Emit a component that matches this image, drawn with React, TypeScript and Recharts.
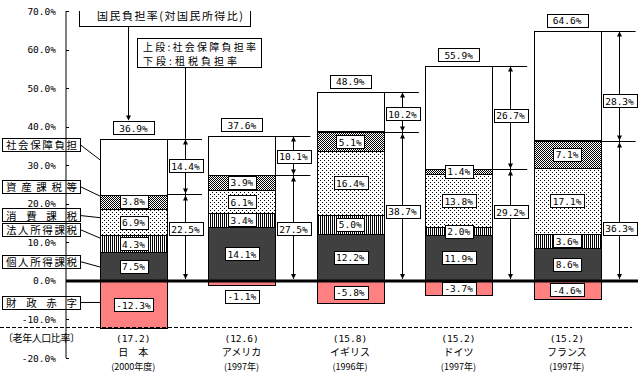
import React from 'react';
import { BarChart, Bar, XAxis, YAxis, ReferenceLine } from 'recharts';

const countries = ['日　本', 'アメリカ', 'イギリス', 'ドイツ', 'フランス'];
const surveyYears = ['(2000年度)', '(1997年)', '(1996年)', '(1997年)', '(1997年)'];
const elderlyRatio = ['(17.2)', '(12.6)', '(15.8)', '(15.2)', '(15.2)'];
const personalIncomeTax = [7.5, 14.1, 12.2, 11.9, 8.6];
const corporateIncomeTax = [4.3, 3.4, 5.0, 2.0, 3.6];
const consumptionTax = [6.9, 6.1, 16.4, 13.8, 17.1];
const assetTax = [3.8, 3.9, 5.1, 1.4, 7.1];
const socialSecurity = [14.4, 10.1, 10.2, 26.7, 28.3];
const taxBurden = [22.5, 27.5, 38.7, 29.2, 36.3];
const nationalBurden = [36.9, 37.6, 48.9, 55.9, 64.6];
const fiscalDeficit = [-12.3, -1.1, -5.8, -3.7, -4.6];
const yTicks = [-20, -10, 0, 10, 20, 30, 40, 50, 60, 70];

// where the side labels sit on the arrows (in % units)
const socialLabelAt = [29.9, 32.3, 43.4, 43.0, 46.7];
const taxLabelAt = [13.5, 13.5, 18.0, 17.9, 13.7];

// callouts on the left of the Japan bar
const callouts = [
  { text: '社会保障負担', at: 35.4, anchor: 31.4 },
  { text: '資産課税等', at: 24.5, anchor: 22.0 },
  { text: '消費課税', at: 17.1, anchor: 16.4 },
  { text: '法人所得課税', at: 13.4, anchor: 11.1 },
  { text: '個人所得課税', at: 5.1, anchor: 3.6 },
  { text: '財政赤字', at: -5.6, anchor: -5.6 },
];

const data = countries.map((country, i) => ({
  i,
  country,
  personal: personalIncomeTax[i],
  corporate: corporateIncomeTax[i],
  consumption: consumptionTax[i],
  assets: assetTax[i],
  social: socialSecurity[i],
  deficit: fiscalDeficit[i],
  tax: taxBurden[i],
  total: nationalBurden[i],
}));

const MONO = '"DejaVu Sans Mono", "Noto Sans CJK JP", monospace';
const JP = '"Noto Sans CJK JP", sans-serif';

const pct = (v: number) => v.toFixed(1) + '%';
const px = (v: number) => Math.round(v) + 0.5;

const LabelBox = ({ cx, cy, text, w }: { cx: number; cy: number; text: string; w?: number }) => {
  const bw = w ?? text.length * 5.7 + 5;
  return (
    <g>
      <rect x={px(cx - bw / 2)} y={px(cy - 6.5)} width={Math.round(bw)} height={13} fill="#fff" stroke="#000" />
      <text x={cx} y={cy + 0.5} dominantBaseline="central" textAnchor="middle" fontFamily={MONO} fontSize={9.5} fill="#000">
        {text}
      </text>
    </g>
  );
};

const segmentShape = (fill: string) => (props: any) => {
  const { x, y, width, height } = props;
  const t = px(Math.min(y, y + height));
  const b = px(Math.max(y, y + height));
  const l = px(x);
  const r = px(x + width);
  return <rect x={l} y={t} width={r - l} height={b - t} fill={fill} stroke="#000" strokeWidth={1} />;
};

const upHead = (x: number, y: number) => `${x},${y} ${x - 2.5},${y + 5} ${x + 2.5},${y + 5}`;
const downHead = (x: number, y: number) => `${x},${y} ${x - 2.5},${y - 5} ${x + 2.5},${y - 5}`;

const SocialShape = (props: any) => {
  const { x, y, width, height, payload } = props;
  const i: number = payload.i;
  const top = Math.min(y, y + height);
  const h = Math.abs(height);
  const ppu = h / payload.social;
  const parts = [payload.personal, payload.corporate, payload.consumption, payload.assets];
  const taxSum = parts.reduce((a: number, b: number) => a + b, 0);
  const bottom = top + h;
  const zeroY = bottom + taxSum * ppu;
  const toY = (v: number) => zeroY - v * ppu;
  const right = x + width;
  const mid = x + width / 2;
  const ax = px(right + 18);
  let base = 0;
  const segLabels = parts.map((v: number, k: number) => {
    const cy = toY(base + v / 2);
    base += v;
    return <LabelBox key={k} cx={mid} cy={cy} text={pct(v)} />;
  });
  const dh = -payload.deficit * ppu;
  const dCy = dh > 13 ? zeroY + dh / 2 : zeroY + dh + 11;
  const totalCy = top - 11;

  return (
    <g>
      <rect x={px(x)} y={px(top)} width={Math.round(width)} height={Math.round(h)} fill="#fff" stroke="#000" />
      <line x1={px(right)} x2={right + 35} y1={px(top)} y2={px(top)} stroke="#000" />
      <line x1={px(right)} x2={right + 35} y1={px(bottom)} y2={px(bottom)} stroke="#000" />
      <line x1={ax} x2={ax} y1={top} y2={zeroY - 2} stroke="#000" />
      <polygon points={upHead(ax, px(top))} fill="#000" />
      <polygon points={downHead(ax, px(bottom) - 1)} fill="#000" />
      <polygon points={upHead(ax, px(bottom) + 1)} fill="#000" />
      <polygon points={downHead(ax, zeroY - 2)} fill="#000" />
      {segLabels}
      <LabelBox cx={mid} cy={dCy} text={pct(payload.deficit)} />
      <LabelBox cx={ax} cy={toY(socialLabelAt[i])} text={pct(payload.social)} />
      <LabelBox cx={ax} cy={toY(taxLabelAt[i])} text={pct(payload.tax)} />
      <LabelBox cx={mid} cy={totalCy} text={pct(payload.total)} w={41} />
      {i === 0 && (
        <g>
          {callouts.map((c) => {
            const cy = toY(c.at);
            return (
              <g key={c.text}>
                <line x1={80} y1={px(cy)} x2={x} y2={toY(c.anchor)} stroke="#000" />
                <rect x={2.5} y={px(cy - 6.5)} width={78} height={13} fill="#fff" stroke="#000" />
                <text x={6} y={cy + 0.5} dominantBaseline="central" fontFamily={JP} fontSize={10.5} textLength={71} lengthAdjust="spacing" fill="#000">
                  {c.text}
                </text>
              </g>
            );
          })}
          <rect x={79.5} y={1.5} width={171} height={25} fill="#fff" stroke="#000" />
          <text x={97} y={14.5} dominantBaseline="central" fontFamily={JP} fontSize={11} textLength={146} lengthAdjust="spacing" fill="#000">
            国民負担率(対国民所得比)
          </text>
          <line x1={px(mid - 6)} x2={px(mid - 6)} y1={27} y2={totalCy - 8} stroke="#000" />
          <polygon points={downHead(px(mid - 6), totalCy - 7)} fill="#000" />
          <rect x={137.5} y={38.5} width={124} height={29} fill="#fff" stroke="#000" />
          <text x={143} y={46} dominantBaseline="central" fontFamily={JP} fontSize={10} textLength={113} lengthAdjust="spacing" fill="#000">
            上段:社会保障負担率
          </text>
          <text x={143} y={60} dominantBaseline="central" fontFamily={JP} fontSize={10} textLength={94} lengthAdjust="spacing" fill="#000">
            下段:租税負担率
          </text>
          <line x1={ax} x2={ax} y1={67.5} y2={top} stroke="#000" />
        </g>
      )}
    </g>
  );
};

const YTick = (props: any) => {
  const { x, y, payload } = props;
  return (
    <g>
      <text x={x} y={y} dominantBaseline="central" textAnchor="end" fontFamily={MONO} fontSize={9.5} fill="#000">
        {pct(payload.value)}
      </text>
      <line x1={x + 10} x2={x + 13} y1={px(y)} y2={px(y)} stroke="#000" />
    </g>
  );
};

const XTick = (props: any) => {
  const { x, y, payload, index } = props;
  return (
    <g>
      {index === 0 && (
        <g>
          <line x1={0} x2={632} y1={px(y - 31)} y2={px(y - 31)} stroke="#000" strokeDasharray="4 2" />
          <text x={3} y={y - 16} fontFamily={JP} fontSize={10} textLength={77} lengthAdjust="spacing" fill="#000">
            〔老年人口比率〕
          </text>
        </g>
      )}
      <text x={x} y={y - 16} textAnchor="middle" fontFamily={MONO} fontSize={9.5} fill="#000">
        {elderlyRatio[index]}
      </text>
      <text x={x} y={y - 2} textAnchor="middle" fontFamily={JP} fontSize={10} fill="#000">
        {payload.value}
      </text>
      <text x={x} y={y + 12} textAnchor="middle" fontFamily={JP} fontSize={9} fill="#000">
        {surveyYears[index]}
      </text>
    </g>
  );
};

export default function App() {
  return (
    <div style={{ position: 'absolute', left: 0, top: 0, width: 638, height: 374, background: '#fff' }}>
      <BarChart width={638} height={374} data={data} stackOffset="sign" barSize={67} margin={{ top: 11, right: 0, bottom: 0, left: 0 }}>
        <defs>
          <pattern id="stripes" width="2" height="2" patternUnits="userSpaceOnUse">
            <rect width="2" height="2" fill="#fff" />
            <rect width="1" height="2" fill="#000" />
          </pattern>
          <pattern id="dots" width="4" height="4" patternUnits="userSpaceOnUse">
            <rect width="4" height="4" fill="#fff" />
            <rect x="0" y="0" width="1" height="1" fill="#000" />
            <rect x="2" y="2" width="1" height="1" fill="#000" />
          </pattern>
          <pattern id="checker" width="2" height="2" patternUnits="userSpaceOnUse">
            <rect width="2" height="2" fill="#fff" />
            <rect width="1" height="1" fill="#000" />
            <rect x="1" y="1" width="1" height="1" fill="#000" />
          </pattern>
        </defs>
        <XAxis
          dataKey="country"
          axisLine={false}
          tickLine={false}
          tickSize={0}
          tickMargin={0}
          height={16}
          interval={0}
          padding={{ left: 13, right: 17 }}
          tick={<XTick />}
        />
        <YAxis
          domain={[-20, 70]}
          ticks={yTicks}
          width={66}
          tickSize={0}
          tickMargin={10}
          tickLine={false}
          axisLine={{ stroke: '#000' }}
          allowDataOverflow
          tick={<YTick />}
        />
        <Bar dataKey="personal" stackId="a" fill="#404040" isAnimationActive={false} shape={segmentShape('#404040')} />
        <Bar dataKey="corporate" stackId="a" fill="url(#stripes)" isAnimationActive={false} shape={segmentShape('url(#stripes)')} />
        <Bar dataKey="consumption" stackId="a" fill="url(#dots)" isAnimationActive={false} shape={segmentShape('url(#dots)')} />
        <Bar dataKey="assets" stackId="a" fill="url(#checker)" isAnimationActive={false} shape={segmentShape('url(#checker)')} />
        <Bar dataKey="deficit" stackId="a" fill="#ff8080" isAnimationActive={false} shape={segmentShape('#ff8080')} />
        <Bar dataKey="social" stackId="a" fill="#fff" isAnimationActive={false} shape={SocialShape} />
        <ReferenceLine y={0} stroke="#000" strokeWidth={3} />
      </BarChart>
    </div>
  );
}
